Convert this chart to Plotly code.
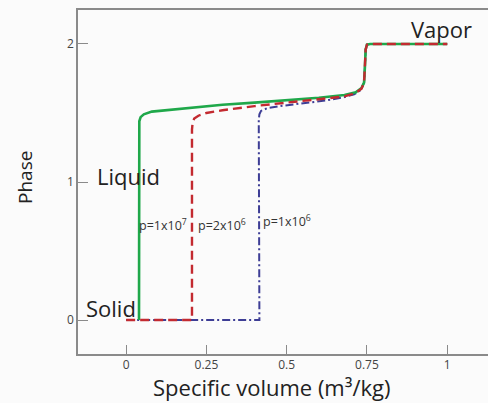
import plotly.graph_objects as go

# Phase curves (x = specific volume m^3/kg, y = phase)
green_x = [0.04, 0.04, 0.041, 0.045, 0.055, 0.08, 0.12, 0.2, 0.3, 0.4, 0.5, 0.6, 0.68, 0.715, 0.733, 0.741, 0.744, 0.746, 0.75, 0.76, 1.0]
green_y = [0.0, 1.40, 1.44, 1.47, 1.49, 1.51, 1.52, 1.54, 1.56, 1.575, 1.59, 1.61, 1.63, 1.65, 1.68, 1.72, 1.85, 1.96, 1.995, 2.0, 2.0]

red_x = [0.0, 0.205, 0.205, 0.207, 0.212, 0.225, 0.25, 0.3, 0.4, 0.5, 0.6, 0.68, 0.715, 0.733, 0.741, 0.744, 0.746, 0.75, 0.76, 1.0]
red_y = [0.0, 0.0, 1.38, 1.43, 1.46, 1.48, 1.50, 1.52, 1.55, 1.575, 1.595, 1.62, 1.645, 1.675, 1.72, 1.85, 1.96, 1.995, 2.0, 2.0]

blue_x = [0.0, 0.415, 0.413, 0.415, 0.42, 0.44, 0.48, 0.55, 0.62, 0.68, 0.71, 0.73, 0.741, 0.744, 0.746, 0.75, 0.76, 1.0]
blue_y = [0.0, 0.0, 1.45, 1.49, 1.515, 1.535, 1.55, 1.57, 1.59, 1.615, 1.635, 1.665, 1.72, 1.85, 1.96, 1.995, 2.0, 2.0]

x_ticks = [0, 0.25, 0.5, 0.75, 1]
x_tick_labels = ["0", "0.25", "0.5", "0.75", "1"]
y_ticks = [0, 1, 2]
y_tick_labels = ["0", "1", "2"]

phase_labels = ["Vapor", "Liquid", "Solid"]
phase_label_x = [0.981, 0.006, -0.047]
phase_label_y = [2.105, 1.043, 0.087]

pressure_labels = ["p=1x10<sup>7</sup>", "p=2x10<sup>6</sup>", "p=1x10<sup>6</sup>"]
pressure_label_x = [0.115, 0.30, 0.50]
pressure_label_y = [0.69, 0.69, 0.715]

GREEN = "#1fa84a"
RED = "#c32a30"
BLUE = "#3d3d95"
GRAY = "#8a8a8a"
FONT = "Open Sans"

fig = go.Figure()
fig.add_trace(go.Scatter(x=blue_x, y=blue_y, mode="lines",
                         line=dict(color=BLUE, width=2, dash="8px,3px,2px,3px"),
                         showlegend=False))
fig.add_trace(go.Scatter(x=green_x, y=green_y, mode="lines",
                         line=dict(color=GREEN, width=2.6),
                         showlegend=False))
fig.add_trace(go.Scatter(x=red_x, y=red_y, mode="lines",
                         line=dict(color=RED, width=2.4, dash="9px,5px"),
                         showlegend=False))

annotations = []
for t, x, y in zip(phase_labels, phase_label_x, phase_label_y):
    annotations.append(dict(text=t, x=x, y=y, xref="x", yref="y", showarrow=False,
                            xanchor="center", yanchor="middle",
                            font=dict(family=FONT, size=22, color="#222")))
for t, x, y in zip(pressure_labels, pressure_label_x, pressure_label_y):
    annotations.append(dict(text=t, x=x, y=y, xref="x", yref="y", showarrow=False,
                            xanchor="center", yanchor="middle",
                            font=dict(family=FONT, size=12.5, color="#333")))
annotations.append(dict(text="Phase", x=-0.129, y=0.512, xref="paper", yref="paper",
                        showarrow=False, textangle=-90, xanchor="center", yanchor="middle",
                        font=dict(family=FONT, size=19, color="#222")))
annotations.append(dict(text="Specific volume (m³/kg)", x=0.473, y=-0.097,
                        xref="paper", yref="paper", showarrow=False, borderpad=0,
                        xanchor="center", yanchor="middle",
                        font=dict(family=FONT, size=22, color="#222")))

fig.update_layout(
    width=488, height=403,
    margin=dict(l=78, r=0, t=10, b=49),
    paper_bgcolor="#fbfbfb", plot_bgcolor="#fbfbfb",
    annotations=annotations,
    xaxis=dict(range=[-0.15, 1.127], tickvals=x_ticks, ticktext=x_tick_labels,
               showgrid=False, zeroline=False, showline=True, linecolor=GRAY, linewidth=1.5,
               mirror=True, ticks="inside", ticklen=9, tickcolor=GRAY, tickwidth=1,
               ticklabelstandoff=-1,
               tickfont=dict(family=FONT, size=12, color="#444")),
    yaxis=dict(range=[-0.246, 2.246], tickvals=y_ticks, ticktext=y_tick_labels,
               showgrid=False, zeroline=False, showline=True, linecolor=GRAY, linewidth=1.5,
               ticks="inside", ticklen=10, tickcolor=GRAY, tickwidth=1,
               tickfont=dict(family=FONT, size=12, color="#444")),
)

fig.write_html("out.html", config={"displayModeBar": False},
               post_script="document.body.style.margin='0';document.body.style.overflow='hidden';")
